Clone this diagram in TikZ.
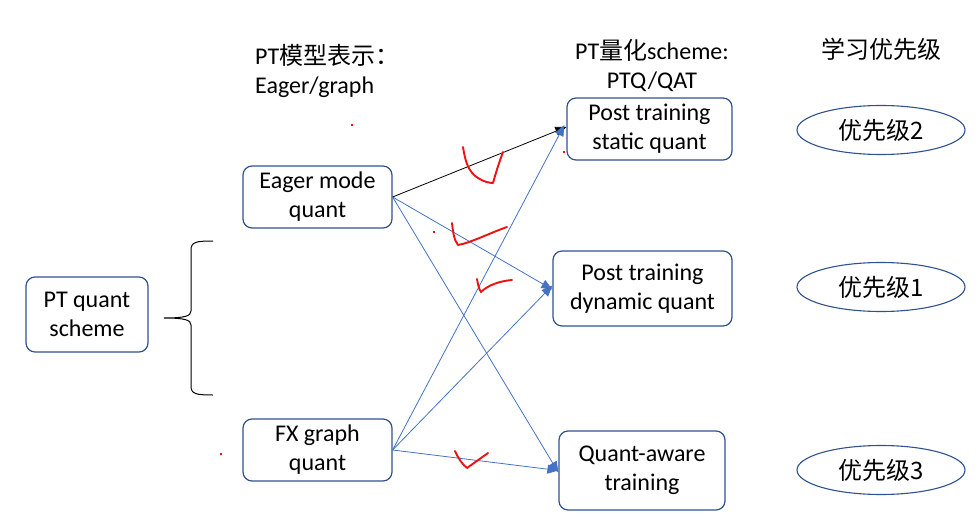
\documentclass[tikz,border=0pt]{standalone}
\usepackage{fontspec}
\setmainfont{Carlito}
\newfontfamily\cjk{Noto Sans CJK SC}
\usetikzlibrary{shapes.geometric,arrows.meta}
\definecolor{boxblue}{HTML}{2F528F}
\definecolor{arrblue}{HTML}{4472C4}
\definecolor{chkred}{HTML}{F01010}
\tikzset{
  box/.style={draw=boxblue, line width=1.2pt, rounded corners=9pt, align=center, inner sep=0pt,
    font=\fontsize{24}{29}\selectfont},
  prio/.style={draw=boxblue, line width=1.1pt, ellipse, minimum width=168pt, minimum height=49pt, inner sep=0pt,
    font=\fontsize{24}{29}\selectfont\cjk},
  hdr/.style={align=left, inner sep=0pt, font=\fontsize{24}{29}\selectfont},
  conn/.style={arrblue, line width=0.8pt, -{Triangle[length=11pt,width=9pt]}},
  chk/.style={chkred, line width=1.9pt, line cap=round, line join=round},
  dot/.style={fill=chkred, inner sep=0pt, minimum size=2.5pt}
}
\begin{document}
\begin{tikzpicture}[x=1pt,y=-1pt]
\useasboundingbox (0,0) rectangle (978,527);
% boxes
\node[box, minimum width=122pt, minimum height=75pt] (pt) at (87,314.5) {\rule{0pt}{0pt}\raisebox{-2pt}{PT quant}\\\raisebox{-2pt}{scheme}};
\node[box, minimum width=149pt, minimum height=62pt] (eager) at (317.5,197) {\raisebox{-2pt}{Eager mode}\\\raisebox{-2pt}{quant}};
\node[box, minimum width=149pt, minimum height=62pt] (fx) at (317.5,450) {\raisebox{-2pt}{FX graph}\\\raisebox{-2pt}{quant}};
\node[box, minimum width=165pt, minimum height=62pt] (static) at (649.5,129) {\raisebox{-2pt}{Post training}\\\raisebox{-2pt}{static quant}};
\node[box, minimum width=179pt, minimum height=75pt] (dyn) at (642.5,288.5) {\raisebox{-2pt}{Post training}\\\raisebox{-2pt}{dynamic quant}};
\node[box, minimum width=166pt, minimum height=79pt] (qat) at (642,470.5) {\raisebox{-2pt}{Quant-aware}\\\raisebox{-2pt}{training}};
% priority ellipses
\node[prio] (p2) at (881,130) {优先级2};
\node[prio] (p1) at (881,287) {优先级1};
\node[prio] (p3) at (881,470) {优先级3};
% headers
\node[hdr, anchor=north west] (h1) at (255,44) {PT{\cjk 模型表示：}\\Eager/graph};
\node[hdr, align=center, anchor=north] (h2) at (652,39) {PT{\cjk 量化}scheme:\\PTQ/QAT};
\node[hdr, anchor=north] (h3) at (881,38) {\cjk 学习优先级};
% brace
\coordinate (btop) at (213,241);
\coordinate (bbot) at (213,395);
\coordinate (btip) at (164,318);
\draw[black, line width=1pt] (btop) .. controls (196,241) and (191,242) .. (191,250)
  -- (191,311) .. controls (191,316) and (185,318) .. (btip)
  .. controls (185,318) and (191,320) .. (191,325)
  -- (191,386) .. controls (191,394) and (196,395) .. (bbot);
% connectors
\draw[conn, black] (eager.east) -- ([yshift=2pt]static.west);
\draw[conn] (eager.east) -- ([yshift=-1pt]dyn.west);
\draw[conn] (eager.east) -- ([yshift=-2pt]qat.west);
\draw[conn] (fx.east) -- ([xshift=-2pt,yshift=4pt]static.west);
\draw[conn] (fx.east) -- ([yshift=3pt]dyn.west);
\draw[conn] (fx.east) -- (qat.west);
% red check marks
\draw[chk] (463,147) .. controls (465,160) and (468,172) .. (478,178) .. controls (484,182) and (490,183) .. (493,183) .. controls (496,172) and (500,160) .. (503,152);
\draw[chk] (452,223) .. controls (453,232) and (454,240) .. (458,245) .. controls (470,243) and (490,233) .. (507,227);
\draw[chk] (477,279) .. controls (478,285) and (479,289) .. (481,292) .. controls (488,285) and (500,281) .. (512,280);
\draw[chk] (455,451) .. controls (458,458) and (462,464) .. (467,468) .. controls (474,463) and (481,458) .. (488,453);
% red dots
\node[dot] (d1) at (434,232) {};
\node[dot] (d2) at (564,152) {};
\node[dot] (d3) at (221,454) {};
\node[dot] (d4) at (352,125) {};
\end{tikzpicture}
\end{document}
